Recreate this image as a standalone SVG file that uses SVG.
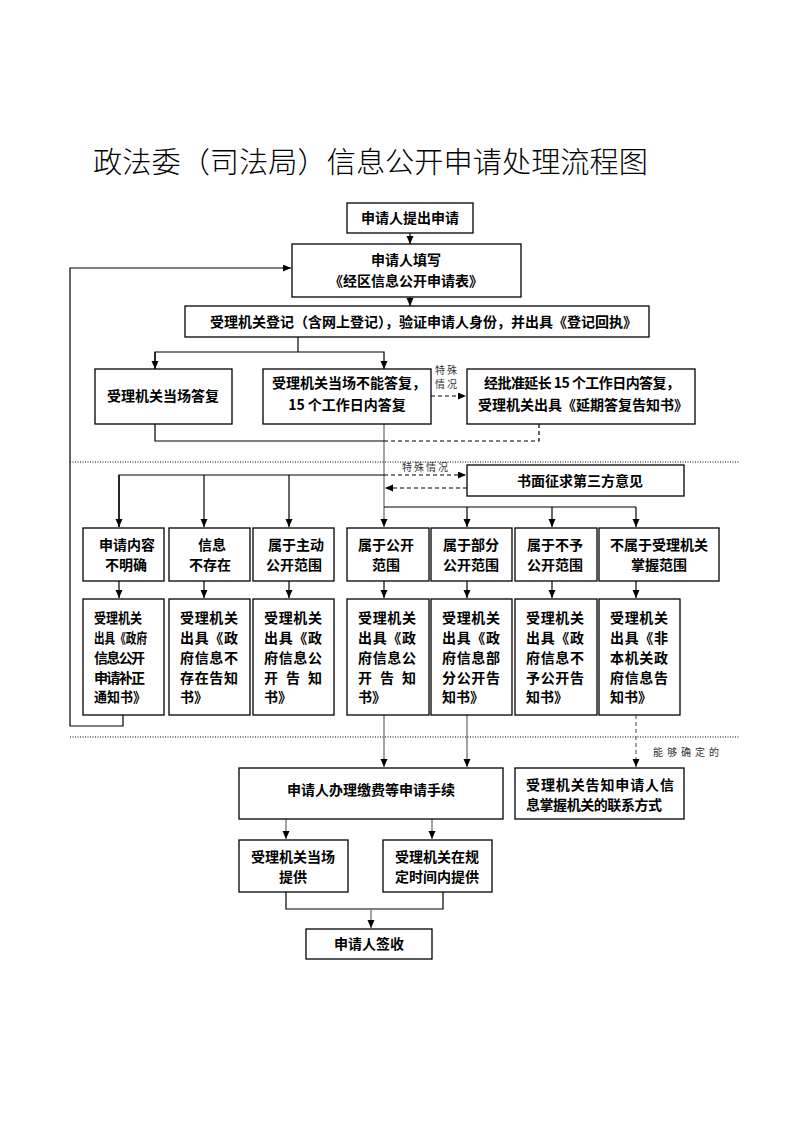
<svg xmlns="http://www.w3.org/2000/svg" width="793" height="1122" viewBox="0 0 793 1122">
<defs>
<marker id="ah" markerWidth="8" markerHeight="8" refX="8" refY="3.5" orient="auto" markerUnits="userSpaceOnUse"><path d="M0,0 L8,3.5 L0,7 z" fill="#000"/></marker>
<style>
.box{fill:#fff;stroke:#000;stroke-width:1.3}
.t{font-family:"Noto Sans CJK SC","Liberation Sans",sans-serif;font-weight:bold;font-size:14px;fill:#000}
.tc{text-anchor:middle}
.ln{fill:none;stroke:#000;stroke-width:1.2}
.gr{stroke:#666}
.ds{stroke-dasharray:4,3}
.dot{fill:none;stroke:#000;stroke-width:1;stroke-dasharray:1,1.5}
.sm{font-family:"Liberation Serif","Noto Sans CJK SC",serif;font-size:10px;fill:#333}
.title{font-family:"Noto Sans CJK SC","Liberation Sans",sans-serif;font-weight:300;font-size:29px;fill:#000}
</style>
</defs>
<rect width="793" height="1122" fill="#fff"/>
<text class="title" x="93" y="173" textLength="555" lengthAdjust="spacingAndGlyphs">政法委（司法局）信息公开申请处理流程图</text>

<g id="connectors">
<line class="ln" x1="410" y1="233" x2="410" y2="244" marker-end="url(#ah)"/>
<line class="ln" x1="410" y1="297" x2="410" y2="306" marker-end="url(#ah)"/>
<polyline class="ln" points="298,337 298,352"/>
<polyline class="ln" points="155,369 155,352 384,352 384,369" marker-end="url(#ah)"/>
<line class="ln" x1="155" y1="352" x2="155" y2="369" marker-end="url(#ah)"/>
<line class="ln ds" x1="431" y1="396" x2="466" y2="396" marker-end="url(#ah)"/>
<line class="ln gr" x1="384" y1="424" x2="384" y2="527" marker-end="url(#ah)"/>
<polyline class="ln" points="155,424 155,441 384,441"/>
<polyline class="ln ds" points="384,441 539,441 539,424"/>
<polyline class="ln" points="123,715 123,726 70,726 70,268 291,268" marker-end="url(#ah)"/>
<line class="dot" x1="70" y1="462" x2="740" y2="462"/>
<line class="dot" x1="70" y1="737" x2="740" y2="737"/>
<polyline class="ln" points="119,527 119,475 384,475"/>
<line class="ln" x1="119" y1="475" x2="119" y2="527" marker-end="url(#ah)"/>
<line class="ln" x1="204" y1="475" x2="204" y2="527" marker-end="url(#ah)"/>
<line class="ln" x1="289" y1="475" x2="289" y2="527" marker-end="url(#ah)"/>
<line class="ln ds" x1="384" y1="475" x2="466" y2="475" marker-end="url(#ah)"/>
<line class="ln ds" x1="467" y1="488" x2="385" y2="488" marker-end="url(#ah)"/>
<polyline class="ln" points="384,507 636,507"/>
<line class="ln" x1="467" y1="507" x2="467" y2="527" marker-end="url(#ah)"/>
<line class="ln" x1="552" y1="507" x2="552" y2="527" marker-end="url(#ah)"/>
<line class="ln" x1="636" y1="507" x2="636" y2="527" marker-end="url(#ah)"/>
<line class="ln" x1="119" y1="581" x2="119" y2="598" marker-end="url(#ah)"/>
<line class="ln" x1="204" y1="581" x2="204" y2="598" marker-end="url(#ah)"/>
<line class="ln" x1="289" y1="581" x2="289" y2="598" marker-end="url(#ah)"/>
<line class="ln" x1="384" y1="581" x2="384" y2="598" marker-end="url(#ah)"/>
<line class="ln" x1="467" y1="581" x2="467" y2="598" marker-end="url(#ah)"/>
<line class="ln" x1="552" y1="581" x2="552" y2="598" marker-end="url(#ah)"/>
<line class="ln" x1="636" y1="581" x2="636" y2="598" marker-end="url(#ah)"/>
<line class="ln gr" x1="384" y1="715" x2="384" y2="767" marker-end="url(#ah)"/>
<line class="ln gr" x1="467" y1="715" x2="467" y2="767" marker-end="url(#ah)"/>
<line class="ln gr ds" x1="636" y1="715" x2="636" y2="767" marker-end="url(#ah)"/>
<line class="ln gr" x1="286" y1="819" x2="286" y2="839" marker-end="url(#ah)"/>
<line class="ln gr" x1="432" y1="819" x2="432" y2="839" marker-end="url(#ah)"/>
<polyline class="ln" points="286,892 286,909 443,909 443,892"/>
<line class="ln gr" x1="371" y1="909" x2="371" y2="928" marker-end="url(#ah)"/>
<text class="sm" x="435" y="374" textLength="22" lengthAdjust="spacing">特殊</text>
<text class="sm" x="435" y="388" textLength="22" lengthAdjust="spacing">情况</text>
<text class="sm" x="402" y="471" textLength="46" lengthAdjust="spacing">特殊情况</text>
<text class="sm" x="653" y="756" textLength="66" lengthAdjust="spacing">能够确定的</text>
</g>

<g id="n1"><rect class="box" x="347" y="203" width="126" height="30"/><text class="t tc" x="410" y="223">申请人提出申请</text></g>
<g id="n2"><rect class="box" x="292" y="244" width="229" height="53"/><text class="t tc" x="406" y="265">申请人填写</text><text class="t tc" x="406" y="286">《经区信息公开申请表》</text></g>
<g id="n3"><rect class="box" x="185" y="306" width="464" height="31"/><text class="t" x="210" y="327">受理机关登记（含网上登记），验证申请人身份，并出具《登记回执》</text></g>
<g id="n4"><rect class="box" x="95" y="369" width="137" height="55"/><text class="t tc" x="163" y="401">受理机关当场答复</text></g>
<g id="n5"><rect class="box" x="263" y="369" width="168" height="55"/><text class="t tc" x="349" y="388">受理机关当场不能答复，</text><text class="t tc" x="347" y="410">15 个工作日内答复</text></g>
<g id="n6"><rect class="box" x="467" y="369" width="228" height="55"/><text class="t" x="484" y="388" textLength="196" lengthAdjust="spacing">经批准延长 15 个工作日内答复，</text><text class="t tc" x="583" y="410">受理机关出具《延期答复告知书》</text></g>
<g id="n7"><rect class="box" x="467" y="465" width="217" height="31"/><text class="t tc" x="580" y="486">书面征求第三方意见</text></g>

<g id="r1a"><rect class="box" x="83" y="528" width="81" height="53"/><text class="t tc" x="127" y="550">申请内容</text><text class="t tc" x="126" y="570">不明确</text></g>
<g id="r1b"><rect class="box" x="169" y="528" width="81" height="53"/><text class="t tc" x="212" y="550">信息</text><text class="t tc" x="210" y="570">不存在</text></g>
<g id="r1c"><rect class="box" x="253" y="528" width="81" height="53"/><text class="t tc" x="296" y="550">属于主动</text><text class="t tc" x="294" y="570">公开范围</text></g>
<g id="r1d"><rect class="box" x="347" y="528" width="82" height="53"/><text class="t tc" x="386" y="550">属于公开</text><text class="t tc" x="386" y="570">范围</text></g>
<g id="r1e"><rect class="box" x="431" y="528" width="81" height="53"/><text class="t tc" x="471" y="550">属于部分</text><text class="t tc" x="471" y="570">公开范围</text></g>
<g id="r1f"><rect class="box" x="515" y="528" width="82" height="53"/><text class="t tc" x="555" y="550">属于不予</text><text class="t tc" x="555" y="570">公开范围</text></g>
<g id="r1g"><rect class="box" x="599" y="528" width="120" height="53"/><text class="t tc" x="659" y="550">不属于受理机关</text><text class="t tc" x="659" y="570">掌握范围</text></g>

<g id="r2a"><rect class="box" x="83" y="599" width="81" height="116"/>
<text class="t" x="94" y="623" textLength="48" lengthAdjust="spacingAndGlyphs">受理机关</text>
<text class="t" x="94" y="643" textLength="53" lengthAdjust="spacingAndGlyphs">出具《政府</text>
<text class="t" x="94" y="663" textLength="51" lengthAdjust="spacing">信息公开</text>
<text class="t" x="94" y="683" textLength="51" lengthAdjust="spacing">申请补正</text>
<text class="t" x="94" y="702" textLength="52" lengthAdjust="spacingAndGlyphs">通知书》</text></g>
<g id="r2b"><rect class="box" x="169" y="599" width="81" height="116"/>
<text class="t" x="180" y="623" textLength="58" lengthAdjust="spacing">受理机关</text>
<text class="t" x="180" y="643" textLength="58" lengthAdjust="spacing">出具《政</text>
<text class="t" x="180" y="663" textLength="58" lengthAdjust="spacing">府信息不</text>
<text class="t" x="180" y="683" textLength="58" lengthAdjust="spacing">存在告知</text>
<text class="t" x="180" y="702">书》</text></g>
<g id="r2c"><rect class="box" x="253" y="599" width="81" height="116"/>
<text class="t" x="264" y="623" textLength="58" lengthAdjust="spacing">受理机关</text>
<text class="t" x="264" y="643" textLength="58" lengthAdjust="spacing">出具《政</text>
<text class="t" x="264" y="663" textLength="58" lengthAdjust="spacing">府信息公</text>
<text class="t" x="264" y="683" textLength="58" lengthAdjust="spacing">开 告 知</text>
<text class="t" x="264" y="702">书》</text></g>
<g id="r2d"><rect class="box" x="347" y="599" width="82" height="116"/>
<text class="t" x="358" y="623" textLength="58" lengthAdjust="spacing">受理机关</text>
<text class="t" x="358" y="643" textLength="58" lengthAdjust="spacing">出具《政</text>
<text class="t" x="358" y="663" textLength="58" lengthAdjust="spacing">府信息公</text>
<text class="t" x="358" y="683" textLength="58" lengthAdjust="spacing">开 告 知</text>
<text class="t" x="358" y="702">书》</text></g>
<g id="r2e"><rect class="box" x="431" y="599" width="81" height="116"/>
<text class="t" x="442" y="623" textLength="58" lengthAdjust="spacing">受理机关</text>
<text class="t" x="442" y="643" textLength="58" lengthAdjust="spacing">出具《政</text>
<text class="t" x="442" y="663" textLength="58" lengthAdjust="spacing">府信息部</text>
<text class="t" x="442" y="683" textLength="58" lengthAdjust="spacing">分公开告</text>
<text class="t" x="442" y="702">知书》</text></g>
<g id="r2f"><rect class="box" x="515" y="599" width="82" height="116"/>
<text class="t" x="526" y="623" textLength="58" lengthAdjust="spacing">受理机关</text>
<text class="t" x="526" y="643" textLength="58" lengthAdjust="spacing">出具《政</text>
<text class="t" x="526" y="663" textLength="58" lengthAdjust="spacing">府信息不</text>
<text class="t" x="526" y="683" textLength="58" lengthAdjust="spacing">予公开告</text>
<text class="t" x="526" y="702">知书》</text></g>
<g id="r2g"><rect class="box" x="599" y="599" width="81" height="116"/>
<text class="t" x="610" y="623" textLength="58" lengthAdjust="spacing">受理机关</text>
<text class="t" x="610" y="643" textLength="58" lengthAdjust="spacing">出具《非</text>
<text class="t" x="610" y="663" textLength="58" lengthAdjust="spacing">本机关政</text>
<text class="t" x="610" y="683" textLength="58" lengthAdjust="spacing">府信息告</text>
<text class="t" x="610" y="702">知书》</text></g>

<g id="n8"><rect class="box" x="239" y="768" width="264" height="51"/><text class="t tc" x="371" y="795">申请人办理缴费等申请手续</text></g>
<g id="n9"><rect class="box" x="515" y="768" width="169" height="51"/><text class="t" x="526" y="790" textLength="148" lengthAdjust="spacing">受理机关告知申请人信</text><text class="t" x="526" y="810" textLength="136" lengthAdjust="spacing">息掌握机关的联系方式</text></g>
<g id="n10"><rect class="box" x="239" y="840" width="109" height="52"/><text class="t tc" x="293" y="862">受理机关当场</text><text class="t tc" x="293" y="882">提供</text></g>
<g id="n11"><rect class="box" x="383" y="840" width="109" height="52"/><text class="t tc" x="437" y="862">受理机关在规</text><text class="t tc" x="437" y="882">定时间内提供</text></g>
<g id="n12"><rect class="box" x="306" y="929" width="126" height="30"/><text class="t tc" x="369" y="949">申请人签收</text></g>
</svg>
